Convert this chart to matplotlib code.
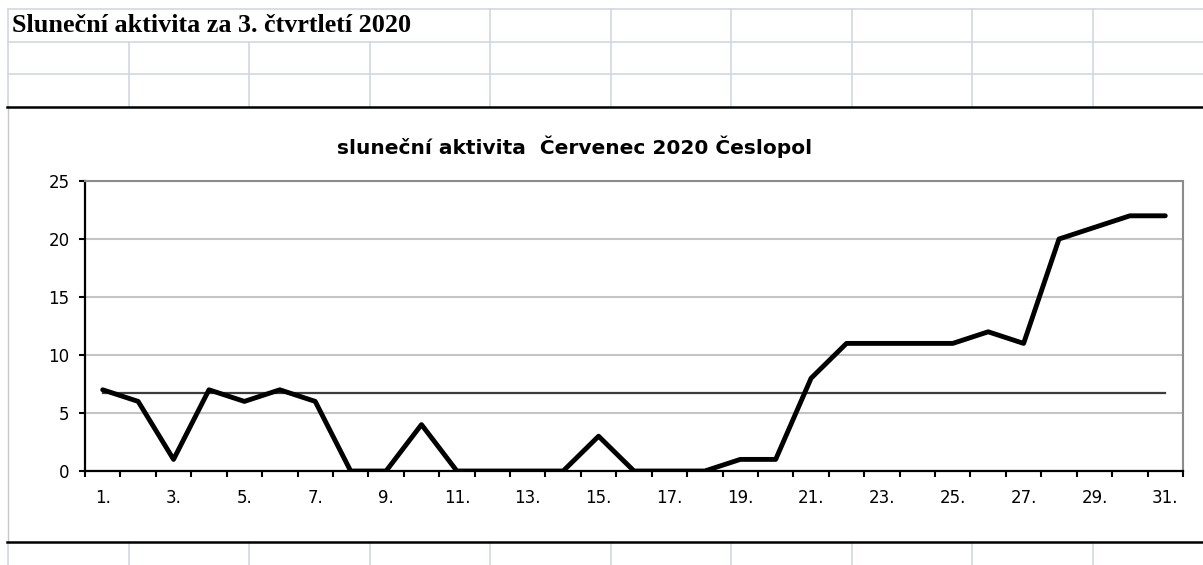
import numpy as np
import matplotlib.pyplot as plt

# data (July 2020, daily values)
days = list(range(1, 32))
day_labels = [f"{d}." for d in days]
activity = [7, 6, 1, 7, 6, 7, 6, 0, 0, 4, 0, 0, 0, 0, 3, 0,
            0, 0, 1, 1, 8, 11, 11, 11, 11, 12, 11, 20, 21, 22, 22]
y_ticks = [0, 5, 10, 15, 20, 25]

sheet_title = "Sluneční aktivita za 3. čtvrtletí 2020"
chart_title = "sluneční aktivita  Červenec 2020 Česlopol"

W, H = 1203, 565
fig = plt.figure(figsize=(W / 100, H / 100), dpi=100)
renderer = fig.canvas.get_renderer()

# spreadsheet background drawn in pixel coordinates
bg = fig.add_axes([0, 0, 1, 1])
bg.set_xlim(0, W)
bg.set_ylim(H, 0)
bg.axis('off')

grid_c = '#d0d7e5'
cols = [8, 128.5, 249, 369.5, 490, 610.5, 731, 851.5, 972, 1092.5]
rows = [9, 42, 74]
for y in rows:
    bg.plot([8, W], [y, y], color=grid_c, lw=1.2)
for x in cols:
    top = 9 if (x == 8 or x >= 490) else 42   # title text hides the lines in row 1
    bg.plot([x, x], [top, 107], color=grid_c, lw=1.2)
    bg.plot([x, x], [542, H], color=grid_c, lw=1.2)
bg.plot([7.5, 7.5], [107, 542], color='#c8c8c8', lw=1)
bg.plot([7, W], [107, 107], color='black', lw=1.8)
bg.plot([7, W], [542, 542], color='black', lw=1.8)


def fit_width(txt, width_px):
    # scale the font so the text spans the same width as in the screenshot
    w = txt.get_window_extent(renderer).width
    txt.set_fontsize(txt.get_fontsize() * width_px / w)


t1 = bg.text(12, 32, sheet_title, family='Liberation Serif', weight='bold',
             fontsize=17, va='baseline', ha='left')
fit_width(t1, 400)
t2 = bg.text(574.5, 154, chart_title, family='DejaVu Sans', weight='bold',
             fontsize=14, va='baseline', ha='center')
fit_width(t2, 475)

# the chart itself
ax = fig.add_axes([85 / W, (H - 471) / H, (1183 - 85) / W, (471 - 181) / H])
ax.plot(days, activity, color='black', lw=3.5, solid_capstyle='round', zorder=4)
mean_val = np.mean(activity)
ax.plot([days[0], days[-1]], [mean_val, mean_val], color='#3c3c3c', lw=1.6, zorder=3)

ax.set_xlim(0.5, 31.5)
ax.set_ylim(0, 25)
ax.set_yticks(y_ticks)
ax.set_yticklabels([str(v) for v in y_ticks])
ax.yaxis.grid(True, color='#c4c4c4', lw=1.5)
ax.set_axisbelow(True)

# ticks at category boundaries, labels at every second day
ax.set_xticks(np.arange(0.5, 32, 1))
ax.set_xticklabels([])
ax.set_xticks(days[::2], minor=True)
ax.set_xticklabels(day_labels[::2], minor=True)
ax.tick_params(axis='x', which='major', direction='out', length=4, width=1.5, color='black')
ax.tick_params(axis='x', which='minor', length=0, pad=13, labelsize=12)
ax.tick_params(axis='y', direction='out', length=4, width=1.5, pad=7, labelsize=12)
for lab in ax.get_xticklabels(minor=True) + ax.get_yticklabels():
    lab.set_family('DejaVu Sans')

ax.spines['left'].set_color('black')
ax.spines['bottom'].set_color('black')
ax.spines['left'].set_linewidth(1.6)
ax.spines['bottom'].set_linewidth(1.6)
ax.spines['top'].set_color('#8c8c8c')
ax.spines['right'].set_color('#8c8c8c')
ax.spines['top'].set_linewidth(1.5)
ax.spines['right'].set_linewidth(1.5)

fig.savefig('out.png', dpi=100)
